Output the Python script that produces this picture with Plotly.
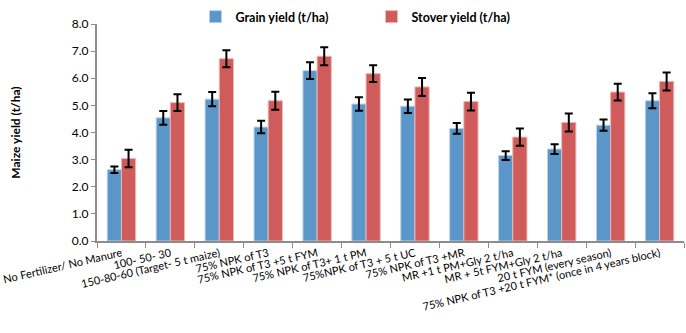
import plotly.graph_objects as go

categories = [
    "No Fertilizer/ No Manure",
    "100- 50- 30",
    "150-80-60 (Target- 5 t maize)",
    "75% NPK of T3",
    "75% NPK of T3 +5 t FYM",
    "75% NPK of T3+ 1 t PM",
    "75%NPK of T3 + 5 t UC",
    "75% NPK of T3 +MR",
    "MR +1 t PM+Gly 2 t/ha",
    "MR + 5t FYM+Gly 2 t/ha",
    "20 t FYM (every season)",
    "75% NPK of T3 +20 t FYM* (once in 4 years block)",
]
grain = [2.63, 4.54, 5.23, 4.20, 6.28, 5.05, 4.97, 4.15, 3.15, 3.39, 4.27, 5.17]
grain_err = [0.12, 0.25, 0.26, 0.23, 0.31, 0.25, 0.25, 0.20, 0.16, 0.18, 0.21, 0.28]
stover = [3.04, 5.10, 6.72, 5.17, 6.81, 6.17, 5.68, 5.14, 3.83, 4.37, 5.49, 5.88]
stover_err = [0.32, 0.31, 0.31, 0.33, 0.33, 0.31, 0.33, 0.33, 0.32, 0.33, 0.31, 0.33]

blue = "#5A96C8"
red = "#CF5C5A"
err_style = dict(type="data", visible=True, color="black", thickness=2, width=4)

fig = go.Figure()
fig.add_trace(go.Bar(
    name="Grain yield (t/ha)", x=categories, y=grain,
    marker=dict(color=blue, line=dict(color="#B9D1E8", width=1)),
    error_y=dict(array=grain_err, **err_style),
))
fig.add_trace(go.Bar(
    name="Stover yield (t/ha)", x=categories, y=stover,
    marker=dict(color=red, line=dict(color="#EBB5B4", width=1)),
    error_y=dict(array=stover_err, **err_style),
))

fig.update_layout(
    width=686, height=333,
    margin=dict(l=97, r=2, t=24, b=92, autoexpand=False),
    paper_bgcolor="white", plot_bgcolor="white",
    barmode="group", bargap=0.42, bargroupgap=0,
    font=dict(family="Lato, Open Sans, sans-serif", size=11, color="black"),
    legend=dict(
        orientation="h", xref="container", yref="container",
        x=0.285, y=1 - 17 / 333, yanchor="middle", xanchor="left",
        font=dict(size=12.5, family="Lato, sans-serif", weight="bold"),
        itemwidth=30, entrywidth=131, bgcolor="rgba(0,0,0,0)",
    ),
    showlegend=True,
)
fig.update_xaxes(
    automargin=False,
    showline=True, linecolor="#8C8C8C", linewidth=2,
    ticks="outside", tickson="boundaries", ticklen=5, tickcolor="#8C8C8C",
    tickangle=-13, tickfont=dict(size=11), showgrid=False,
)
fig.update_yaxes(
    automargin=False,
    range=[0, 8], dtick=1, tickformat=".1f",
    showline=True, linecolor="#8C8C8C", linewidth=2,
    ticks="outside", ticklen=4, tickcolor="#8C8C8C", showgrid=False,
    tickfont=dict(size=12),
    title=dict(text="<b>Maize yield (t/ha)</b>", font=dict(size=12), standoff=49),
    zeroline=False,
)

fig.write_html(
    "out.html",
    config={"displayModeBar": False},
    post_script="document.body.style.margin='0';document.body.style.overflow='hidden';",
)
